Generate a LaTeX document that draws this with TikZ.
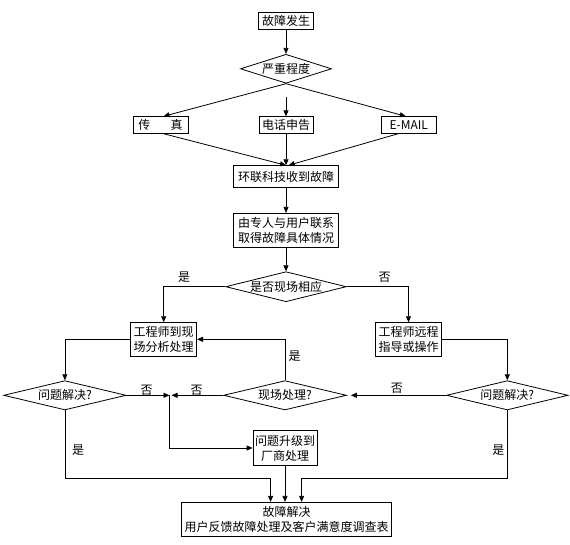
\documentclass[tikz,border=0pt]{standalone}
\usepackage{fontspec}
\setmainfont{Noto Sans CJK SC}
\usetikzlibrary{shapes.geometric,arrows.meta,calc}
\begin{document}
\begin{tikzpicture}[x=1pt,y=-1pt,
  box/.style={draw,line width=0.8pt,inner sep=0pt,align=center,font=\fontsize{12}{15}\selectfont},
  dia/.style={draw,diamond,shape aspect=4,line width=0.8pt,inner sep=0pt,font=\fontsize{12}{15}\selectfont},
  arr/.style={line width=0.8pt,-{Triangle[length=6pt,width=5pt]}},
  lbl/.style={font=\fontsize{12}{15}\selectfont,inner sep=0pt}]
\fill[white] (0,0) rectangle (570,545);
\useasboundingbox (0,0) rectangle (570,545);
% nodes
\node[box,minimum width=54.4,minimum height=16.6] (a) at (286,21) {故障发生};
\node[dia,shape aspect=3.1,minimum width=91,minimum height=29] (b) at (286,68.8) {严重程度};
\node[box,minimum width=55,minimum height=16.6] (c) at (160.5,125) {传\hspace{1.7em}真};
\node[box,minimum width=54,minimum height=16.6] (d) at (286,125) {电话申告};
\node[box,minimum width=54.8,minimum height=16.6] (e) at (408.8,125) {E-MAIL};
\node[box,minimum width=104.4,minimum height=21.6] (f) at (286,176.5) {环联科技收到故障};
\node[box,minimum width=104.4,minimum height=34] (g) at (286,230.3) {由专人与用户联系\\取得故障具体情况};
\node[dia,minimum width=120.6,minimum height=30] (h) at (286,286.7) {是否现场相应};
\node[box,minimum width=65.8,minimum height=33.3] (i) at (163.7,339.3) {工程师到现\\场分析处理};
\node[box,minimum width=65.8,minimum height=33.3] (j) at (408.5,339.3) {工程师远程\\指导或操作};
\node[dia,minimum width=122.3,minimum height=29.3] (k) at (64.9,395.3) {问题解决?};
\node[dia,minimum width=122.8,minimum height=29.3] (l) at (285,395.3) {现场处理?};
\node[dia,minimum width=121.5,minimum height=29.3] (m) at (507.3,395.3) {问题解决?};
\node[box,minimum width=64,minimum height=34.3] (n) at (285,448) {问题升级到\\厂商处理};
\node[box,minimum width=210,minimum height=34.4] (o) at (286.6,519.5) {故障解决\\用户反馈故障处理及客户满意度调查表};
% labels
\node[lbl] (y1) at (184.1,277.3) {是};
\node[lbl] (n1) at (384.7,277.3) {否};
\node[lbl] (y2) at (294.5,355.7) {是};
\node[lbl] (n2) at (146.5,390.7) {否};
\node[lbl] (n3) at (196.6,390.7) {否};
\node[lbl] (n4) at (396.8,388.3) {否};
\node[lbl] (y3) at (78.2,449.7) {是};
\node[lbl] (y4) at (498.4,449.7) {是};
% coordinates
\coordinate (bm) at (286,96.7);
\coordinate (jn) at (169.5,395.3);
% connectors
\draw[arr] (a.south) -- (b.north);
\draw[arr] (b.south) -- ($(c.north)+(3,0)$);
\draw[arr] (b.south) -- ($(e.north)+(-3,0)$);
\draw[arr] (bm) -- (d.north);
\draw[arr] ($(c.south)+(3,0)$) -- (f.north);
\draw[arr] ($(e.south)+(-10.6,0)$) -- ($(f.north)+(2.6,0)$);
\draw[arr] (d.south) -- (f.north);
\draw[arr] (f.south) -- (g.north);
\draw[arr] (g.south) -- (h.north);
\draw[arr] (h.west) -| (i.north);
\draw[arr] (h.east) -| (j.north);
\draw[arr] (i.west) -| (k.north);
\draw[arr] (j.east) -| (m.north);
\draw[arr] (l.north) |- (i.east);
\draw[arr] (k.east) -- (jn);
\draw[arr,shorten >=2pt] (l.west) -- (jn);
\draw[arr] (jn) |- (n.west);
\draw[arr,shorten >=4pt] (m.west) -- (l.east);
\draw[arr] (k.south) |- ($(o.north)+(-16,-24)$) -- ($(o.north)+(-16,0)$);
\draw[arr] (n.south) -- (n.south |- o.north);
\draw[arr] (m.south) |- ($(o.north)+(15,-24)$) -- ($(o.north)+(15,0)$);
\end{tikzpicture}
\end{document}
